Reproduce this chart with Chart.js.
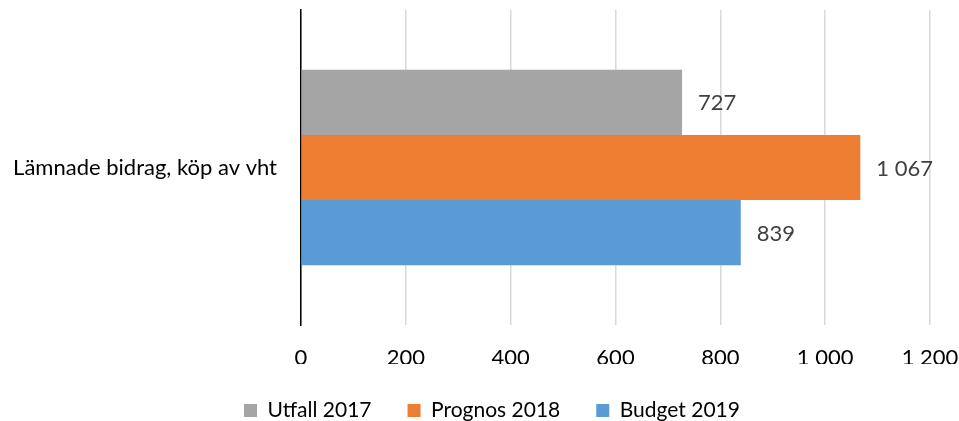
<!DOCTYPE html>
<html>
<head>
<meta charset="utf-8">
<script src="https://cdn.jsdelivr.net/npm/chart.js@4/dist/chart.umd.min.js"></script>
<style>
  html, body { margin: 0; padding: 0; background: #fff; }
  #wrap { width: 959px; height: 421px; }
</style>
</head>
<body>
<div id="wrap"><canvas id="bar-chart"></canvas></div>
<script>
// 数据
const categories = ['Lämnade bidrag, köp av vht'];
const seriesNames = ['Utfall 2017', 'Prognos 2018', 'Budget 2019'];
const utfall2017 = [727];
const prognos2018 = [1067];
const budget2019 = [839];
const xTicks = [0, 200, 400, 600, 800, 1000, 1200];

const colors = ['#A5A5A5', '#ED7D31', '#5B9BD5'];
const fontFamily = 'Lato, "Open Sans", sans-serif';

// 千位分隔符用空格，例如 1 067
function fmt(v) {
    return String(v).replace(/\B(?=(\d{3})+(?!\d))/g, ' ');
}

// 在柱子末端右侧绘制数值
const valueLabels = {
    id: 'valueLabels',
    afterDatasetsDraw(chart) {
        const ctx = chart.ctx;
        ctx.save();
        ctx.font = '22px ' + fontFamily;
        ctx.fillStyle = '#404040';
        ctx.textAlign = 'left';
        ctx.textBaseline = 'middle';
        chart.data.datasets.forEach((ds, i) => {
            chart.getDatasetMeta(i).data.forEach((bar, j) => {
                ctx.fillText(fmt(ds.data[j]), bar.x + 16, bar.y + 1);
            });
        });
        ctx.restore();
    }
};

// 图例整体稍微右移
const legendShift = {
    id: 'legendShift',
    afterLayout(chart) {
        const lg = chart.legend;
        if (lg) {
            lg.left += 27;
            lg.right += 27;
        }
    }
};

const data = {
    labels: categories,
    datasets: [
        { label: seriesNames[0], data: utfall2017, backgroundColor: colors[0] },
        { label: seriesNames[1], data: prognos2018, backgroundColor: colors[1] },
        { label: seriesNames[2], data: budget2019, backgroundColor: colors[2] }
    ]
};

const options = {
    indexAxis: 'y',
    responsive: true,
    maintainAspectRatio: false,
    animation: false,
    layout: { padding: { top: 10, right: 29, bottom: -10, left: 0 } },
    datasets: {
        bar: { categoryPercentage: 0.62, barPercentage: 1.0 }
    },
    scales: {
        x: {
            min: 0,
            max: 1200,
            afterBuildTicks: scale => { scale.ticks = xTicks.map(v => ({ value: v })); },
            afterFit: scale => {
                scale.height = 39;
                scale.paddingLeft = 0;
                scale.paddingRight = 0;
            },
            grid: { color: '#D9D9D9', lineWidth: 1.5, drawTicks: false },
            border: { display: false },
            ticks: {
                color: '#000',
                padding: 20,
                maxRotation: 0,
                font: { family: fontFamily, size: 22 },
                callback: v => fmt(v)
            }
        },
        y: {
            afterFit: scale => {
                scale.width = 301;
                scale.paddingTop = 0;
                scale.paddingBottom = 0;
            },
            grid: { display: false },
            border: { display: true, color: '#000', width: 1.5 },
            ticks: {
                color: '#000',
                padding: 16,
                font: { family: fontFamily, size: 22 }
            }
        }
    },
    plugins: {
        legend: {
            position: 'bottom',
            labels: {
                color: '#000',
                boxWidth: 13,
                boxHeight: 13,
                padding: 36,
                font: { family: fontFamily, size: 21 }
            }
        },
        tooltip: { enabled: false }
    }
};

// 创建图表
window.barChart = new Chart(document.getElementById('bar-chart'), {
    type: 'bar',
    data: data,
    options: options,
    plugins: [valueLabels, legendShift]
});
</script>
</body>
</html>
